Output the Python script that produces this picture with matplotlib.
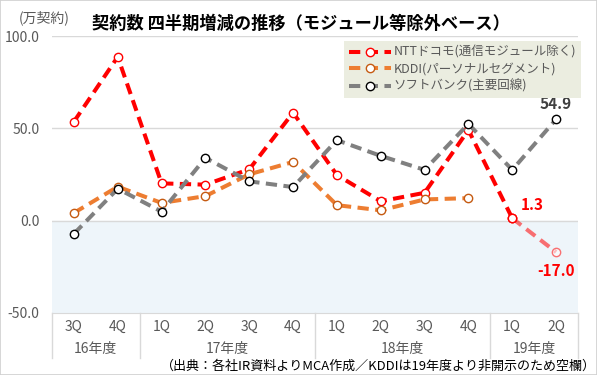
import matplotlib
matplotlib.use("Agg")
import matplotlib.pyplot as plt
import matplotlib.transforms as mtransforms
from matplotlib.patches import Rectangle
import numpy as np

plt.rcParams['font.family'] = ['Noto Sans CJK JP', 'DejaVu Sans']

quarters = ["3Q", "4Q", "1Q", "2Q", "3Q", "4Q", "1Q", "2Q", "3Q", "4Q", "1Q", "2Q"]
years = ["16年度", "17年度", "18年度", "19年度"]
year_sizes = [2, 4, 4, 2]

ntt = [53.6, 88.7, 20.2, 19.5, 27.8, 58.5, 24.7, 10.5, 15.1, 49.1, 1.3, -17.0]
kddi = [4.2, 18.4, 9.6, 13.3, 25.1, 31.8, 8.4, 5.6, 11.5, 12.2, np.nan, np.nan]
softbank = [-7.1, 17.3, 4.9, 34.0, 21.3, 18.2, 43.6, 35.1, 27.5, 52.4, 27.5, 54.9]

labels = ["NTTドコモ(通信モジュール除く)", "KDDI(パーソナルセグメント)", "ソフトバンク(主要回線)"]
colors = ["#FF0000", "#ED7D31", "#808080"]
edge_colors = ["#FF0000", "#C55A11", "#000000"]


def draw_series(ax, x, y, color, edge, label, alpha=1.0):
    return ax.plot(x, y, color=color, lw=2.9, dashes=(2.8, 1.6), dash_capstyle='butt',
                   marker='o', markersize=6, markerfacecolor='white',
                   markeredgecolor=edge, markeredgewidth=1.0, label=label,
                   alpha=alpha, zorder=3)[0]


def main():
    fig = plt.figure(figsize=(5.97, 3.75), dpi=100)
    ax = fig.add_axes([52 / 597, 1 - 313 / 375, 526 / 597, 277 / 375])
    fig.patches.append(Rectangle((0, 0), 1, 1, transform=fig.transFigure, fill=False,
                                 edgecolor='#D0D0D0', lw=1.2))

    x = np.arange(len(quarters))
    ax.set_xlim(-0.5, len(quarters) - 0.5)
    ax.set_ylim(-50, 100)
    ax.axhspan(-50, 0, color='#EEF5FA', zorder=0)
    for v in [0, 50, 100]:
        ax.axhline(v, color='#D9D9D9', lw=1, zorder=1)
    for s in ['left', 'right', 'top']:
        ax.spines[s].set_visible(False)
    ax.spines['bottom'].set_color('#D9D9D9')
    ax.set_yticks([-50, 0, 50, 100])
    ax.set_yticklabels(["%.1f" % v for v in [-50, 0, 50, 100]])
    ax.tick_params(axis='y', length=0, labelsize=10, labelcolor='#595959', pad=9)
    ax.set_xticks([])

    # NTT: last segment is lighter
    h1 = draw_series(ax, x[:11], ntt[:11], colors[0], edge_colors[0], labels[0])
    draw_series(ax, x[10:], ntt[10:], colors[0], edge_colors[0], None, alpha=0.55)
    draw_series(ax, x[10:11], ntt[10:11], colors[0], edge_colors[0], None)
    h2 = draw_series(ax, x, kddi, colors[1], edge_colors[1], labels[1])
    h3 = draw_series(ax, x, softbank, colors[2], edge_colors[2], labels[2])

    ax.text(x[10] + 0.2, ntt[10] + 3, "%.1f" % ntt[10], color='#FF0000', fontsize=11,
            fontweight='bold', ha='left', va='bottom')
    ax.text(x[11], ntt[11] - 6, "%.1f" % ntt[11], color='#FF0000', fontsize=11,
            fontweight='bold', ha='center', va='top')
    ax.text(x[11], softbank[11] + 4, "%.1f" % softbank[11], color='#404040', fontsize=11,
            fontweight='bold', ha='center', va='bottom')

    # category axis labels
    trans = mtransforms.blended_transform_factory(ax.transData, ax.transAxes)
    for xi, q in zip(x, quarters):
        ax.text(xi, -14 / 277, q, transform=trans, ha='center', va='center',
                fontsize=10, color='#595959')
    edges = np.concatenate([[0], np.cumsum(year_sizes)]) - 0.5
    for i, yname in enumerate(years):
        ax.text((edges[i] + edges[i + 1]) / 2, -36 / 277, yname, transform=trans,
                ha='center', va='center', fontsize=10, color='#595959')
    for e in edges:
        ax.plot([e, e], [0, -45 / 277], transform=trans, color='#D9D9D9', lw=1, clip_on=False)

    leg = fig.legend(handles=[h1, h2, h3], loc='upper right',
                     bbox_to_anchor=(581 / 597, 1 - 41 / 375), borderaxespad=0,
                     frameon=True, fancybox=False, facecolor='#EBEDE0', edgecolor='none',
                     framealpha=1, fontsize=9, labelcolor='#595959', handlelength=3.4,
                     handletextpad=0.2, labelspacing=0.3, numpoints=1)
    leg.set_zorder(5)

    fig.text(92 / 597, 1 - 24 / 375, "契約数 四半期増減の推移（モジュール等除外ベース）",
             fontsize=12.4, fontweight='bold', color='black', ha='left', va='center')
    fig.text(19 / 597, 1 - 18 / 375, "(万契約)", fontsize=10, color='#595959',
             ha='left', va='center')
    fig.text(596 / 597, 1 - 366 / 375,
             "（出典：各社IR資料よりMCA作成／KDDIは19年度より非開示のため空欄）",
             fontsize=9.4, color='black', ha='right', va='center')

    fig.savefig("out.png", dpi=100)


if __name__ == "__main__":
    main()
